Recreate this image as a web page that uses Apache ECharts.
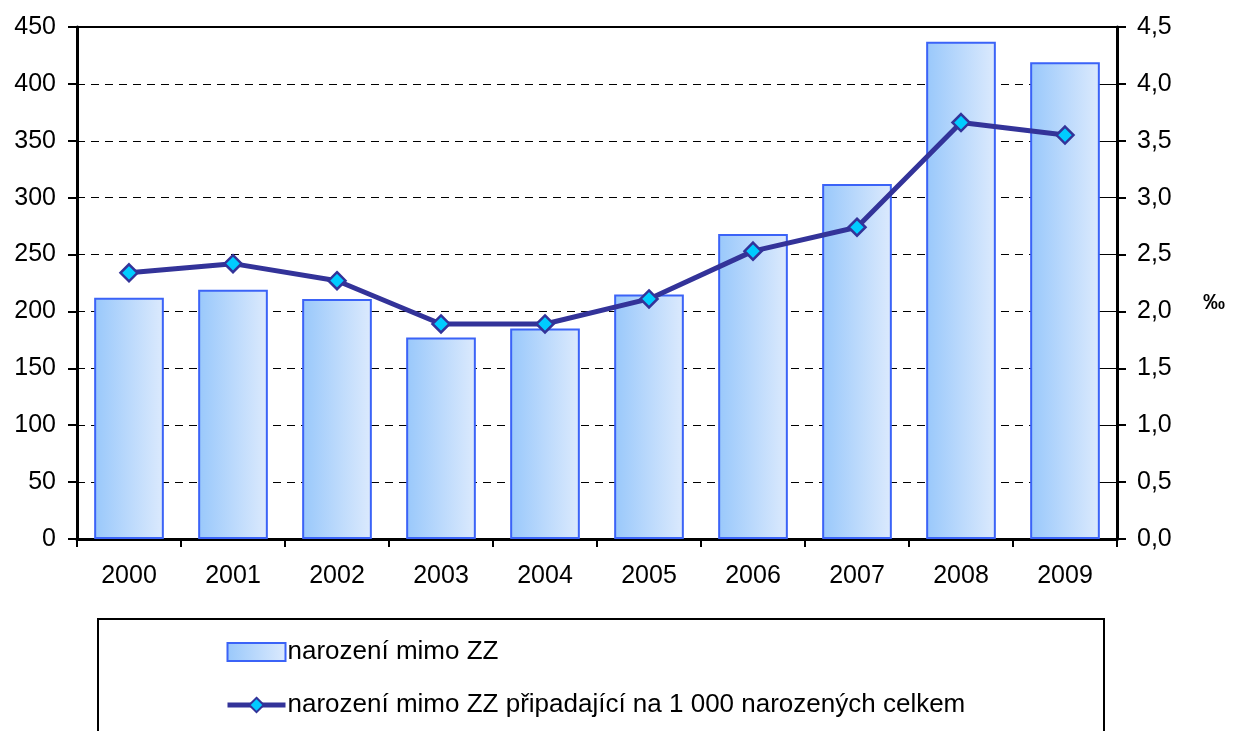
<!DOCTYPE html>
<html>
<head>
<meta charset="utf-8">
<script src="https://cdn.jsdelivr.net/npm/echarts@6/dist/echarts.min.js"></script>
<style>
html,body{margin:0;padding:0;background:#fff;}
#chart{width:1233px;height:731px;}
</style>
</head>
<body>
<div id="chart"></div>
<script>
const categories = ['2000','2001','2002','2003','2004','2005','2006','2007','2008','2009'];
const birthsOutside = [212, 219, 211, 177, 185, 215, 268, 312, 437, 419];
const perThousand = [2.34, 2.42, 2.27, 1.89, 1.89, 2.11, 2.53, 2.74, 3.66, 3.55];
const barName = 'narození mimo ZZ';
const lineName = 'narození mimo ZZ připadající na 1 000 narozených celkem';
const unitLabel = '‰';

const FONT = "'Liberation Sans', Arial, sans-serif";
const FS = 25;

const chart = echarts.init(document.getElementById('chart'), null, {renderer: 'canvas'});

const barGradient = new echarts.graphic.LinearGradient(0, 0, 1, 0, [
  {offset: 0, color: '#99c8fb'},
  {offset: 1, color: '#dceafd'}
]);

chart.setOption({
  animation: false,
  backgroundColor: '#fff',
  textStyle: {fontFamily: FONT, color: '#000'},
  grid: {
    left: 77, right: 116, top: 27, bottom: 192,
    show: true, borderColor: '#000', borderWidth: 2, backgroundColor: 'transparent'
  },
  legend: {
    orient: 'vertical',
    left: 220, top: 634,
    itemWidth: 58, itemHeight: 18, itemGap: 27,
    textStyle: {fontFamily: FONT, fontSize: 26, color: '#000', padding: [0,0,0,-3]},
    data: [
      {name: barName, icon: 'rect'},
      {name: lineName, lineStyle: {width: 5, color: '#333399'}}
    ]
  },
  xAxis: {
    type: 'category',
    data: categories,
    axisLine: {lineStyle: {color: '#000', width: 3}},
    axisTick: {show: true, length: 8, lineStyle: {color: '#000', width: 2}},
    axisLabel: {fontFamily: FONT, fontSize: FS, color: '#000', margin: 25},
    splitLine: {show: false}
  },
  yAxis: [
    {
      type: 'value', min: 0, max: 450, interval: 50, position: 'left',
      axisLine: {show: true, lineStyle: {color: '#000', width: 3}},
      axisTick: {show: true, length: 9, lineStyle: {color: '#000', width: 2}},
      axisLabel: {fontFamily: FONT, fontSize: FS, color: '#000', margin: 21},
      splitLine: {show: true, lineStyle: {color: '#000', width: 1, type: [8, 6]}}
    },
    {
      type: 'value', min: 0, max: 4.5, interval: 0.5, position: 'right',
      axisLine: {show: true, lineStyle: {color: '#000', width: 3}},
      axisTick: {show: true, length: 9, lineStyle: {color: '#000', width: 2}},
      axisLabel: {fontFamily: FONT, fontSize: FS, color: '#000', margin: 20,
        formatter: v => v.toFixed(1).replace('.', ',')},
      splitLine: {show: false}
    },
    {
      type: 'value', min: 0, max: 4.5, interval: 0.5, position: 'right',
      axisLine: {show: false},
      axisTick: {show: true, inside: true, length: 10, lineStyle: {color: '#000', width: 1}},
      axisLabel: {show: false},
      splitLine: {show: false}
    }
  ],
  series: [
    {
      name: barName,
      type: 'bar',
      yAxisIndex: 0,
      data: birthsOutside,
      barWidth: '67%',
      itemStyle: {color: barGradient, borderColor: '#3b63f7', borderWidth: 2}
    },
    {
      name: lineName,
      type: 'line',
      yAxisIndex: 1,
      data: perThousand,
      symbol: 'diamond',
      symbolSize: 17,
      lineStyle: {color: '#333399', width: 5},
      itemStyle: {color: '#00ccff', borderColor: '#333399', borderWidth: 2.5},
      z: 5
    }
  ],
  graphic: [
    {
      type: 'rect', left: 97, top: 618, z: -10,
      shape: {width: 1006, height: 200},
      style: {fill: 'transparent', stroke: '#000', lineWidth: 2}
    },
    {
      type: 'text', left: 1203, top: 292,
      style: {text: unitLabel, fontFamily: FONT, fontSize: 22, fontWeight: 'bold', fill: '#000'}
    }
  ]
});
</script>
</body>
</html>
